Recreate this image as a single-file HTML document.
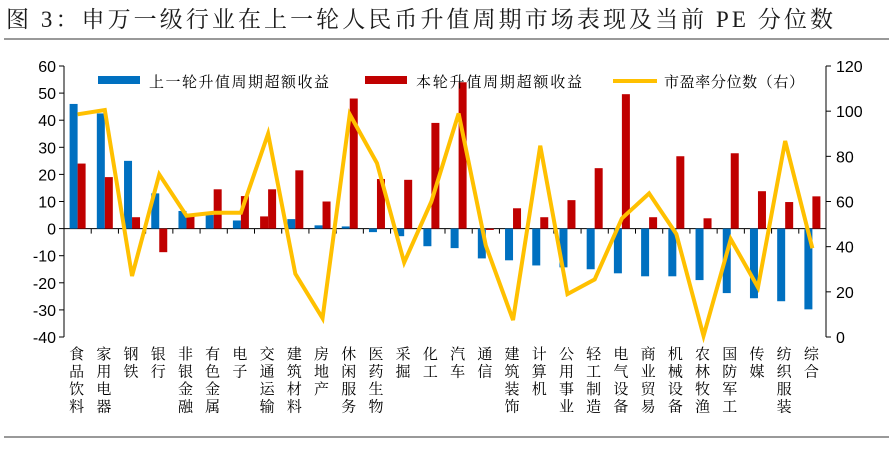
<!DOCTYPE html>
<html><head><meta charset="utf-8"><style>
body{margin:0;background:#fff;width:893px;height:449px;overflow:hidden;font-family:"Liberation Sans","Noto Sans CJK SC",sans-serif}
svg text{font-family:"Liberation Sans","Noto Sans CJK SC",sans-serif}
svg text.cj{font-family:"Liberation Serif","Noto Serif CJK SC",serif}
</style></head><body>
<svg id="c" width="893" height="449">
<text class="cj" x="6" y="27" font-size="23" fill="#1a1a1a" textLength="827" lengthAdjust="spacing">图 3：申万一级行业在上一轮人民币升值周期市场表现及当前 PE 分位数</text>
<line x1="4" y1="39" x2="889" y2="39" stroke="#333" stroke-width="1"/>
<line x1="4" y1="437" x2="889" y2="437" stroke="#333" stroke-width="1"/>
<g id="g"></g>
</svg>
<script>
const categories=["食品饮料","家用电器","钢铁","银行","非银金融","有色金属","电子","交通运输","建筑材料","房地产","休闲服务","医药生物","采掘","化工","汽车","通信","建筑装饰","计算机","公用事业","轻工制造","电气设备","商业贸易","机械设备","农林牧渔","国防军工","传媒","纺织服装","综合"];
const prevExcess=[46,42.5,25,13,6.5,5,3,4.5,3.5,1.2,0.8,-1.3,-2.8,-6.5,-7.2,-11,-11.7,-13.6,-14.3,-15,-16.5,-17.6,-17.6,-19,-23.8,-25.7,-26.8,-29.8];
const currExcess=[24,19,4.2,-8.7,4.5,14.5,12,14.5,21.5,10,48,18.3,18,39,54,-0.5,7.5,4.2,10.5,22.3,49.6,4.2,26.7,3.8,27.8,13.8,9.8,11.9];
const pePct=[98.6,100.5,27,72,53.7,55,55,90,28,8.3,98.6,77,33,60,99,40.5,7.5,84.7,19,25.5,52.5,63.6,45.6,0.5,43.3,22,86.8,39.3];
const leftTicks=[60,50,40,30,20,10,0,-10,-20,-30,-40];
const rightTicks=[120,100,80,60,40,20,0];
const NS="http://www.w3.org/2000/svg",g=document.getElementById('g');
const X0=64,X1=826,YT=66,YB=337,n=categories.length,bw=(X1-X0)/n;
const yL=v=>YT+(60-v)/100*(YB-YT), yR=v=>YB-v/120*(YB-YT), xC=i=>X0+bw*(i+0.5);
function el(t,a){const e=document.createElementNS(NS,t);for(const k in a)e.setAttribute(k,a[k]);g.appendChild(e);return e;}
let e=el('line',{x1:X0,y1:YT,x2:X0,y2:YB,stroke:'#000'});

e=el('line',{x1:X1,y1:YT,x2:X1,y2:YB,stroke:'#000'});

e=el('line',{x1:X0,y1:yL(0),x2:X1,y2:yL(0),stroke:'#000'});

leftTicks.forEach(v=>{el('line',{x1:X0-5,y1:yL(v),x2:X0,y2:yL(v),stroke:'#000'});
 const t=el('text',{x:X0-8,y:yL(v)+6,'font-size':16,'text-anchor':'end',fill:'#000'});t.textContent=v;
 });
rightTicks.forEach(v=>{el('line',{x1:X1,y1:yR(v),x2:X1+5,y2:yR(v),stroke:'#000'});
 const t=el('text',{x:X1+10,y:yR(v)+6,'font-size':16,fill:'#000'});t.textContent=v;
 });
for(let i=1;i<n;i++)el('line',{x1:X0+bw*i,y1:yL(0),x2:X0+bw*i,y2:yL(0)+5,stroke:'#000'});
categories.forEach((c,i)=>{
 const a=prevExcess[i],b=currExcess[i],xc=xC(i);
 const r1=el('rect',{x:xc-8,y:Math.min(yL(a),yL(0)),width:8,height:Math.abs(yL(a)-yL(0)),fill:i===7?'#c00000':'#0070c0'});
 
 const r2=el('rect',{x:xc,y:Math.min(yL(b),yL(0)),width:8,height:Math.abs(yL(b)-yL(0)),fill:'#c00000'});
 
 const t=el('text',{x:xc-1,y:356,'font-size':15,'text-anchor':'middle',fill:'#000',class:'cj'});
 
 [...c].forEach((ch,k)=>{const s=document.createElementNS(NS,'tspan');s.setAttribute('x',xc-1);s.setAttribute('y',359+k*17.5);s.textContent=ch;t.appendChild(s);});
});
const ln=el('polyline',{points:pePct.map((v,i)=>xC(i)+','+yR(v)).join(' '),fill:'none',stroke:'#ffc000','stroke-width':4,'stroke-linejoin':'miter'});

const lg=[[98,'#0070c0','上一轮升值周期超额收益','rect',180],[365,'#c00000','本轮升值周期超额收益','rect',166],[613,'#ffc000','市盈率分位数（右）','line',140]];
lg.forEach(([x,col,txt,k,w])=>{
 const m=k==='rect'?el('rect',{x:x,y:76,width:42,height:8,fill:col}):el('line',{x1:x,y1:81,x2:x+44,y2:81,stroke:col,'stroke-width':4});
 
 const t=el('text',{x:x+51,y:87,'font-size':15,fill:'#000',class:'cj',textLength:w,lengthAdjust:'spacing'});t.textContent=txt;
 
});
</script>
</body></html>
